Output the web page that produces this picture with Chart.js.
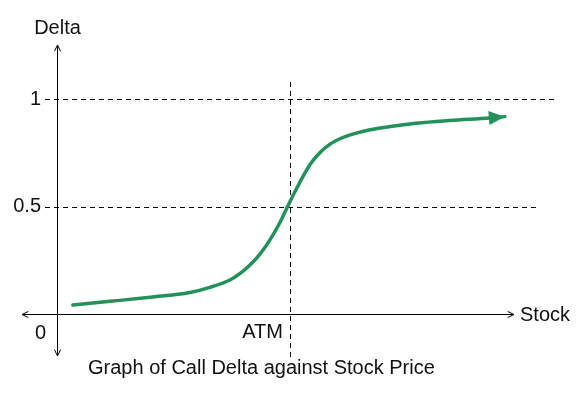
<!DOCTYPE html>
<html>
<head>
<meta charset="utf-8">
<script src="https://cdn.jsdelivr.net/npm/chart.js@4"></script>
<style>
  html, body { margin: 0; padding: 0; background: #fff; }
  #wrap { width: 586px; height: 395px; }
</style>
</head>
<body>
<div id="wrap"><canvas id="myChart"></canvas></div>
<script>
// stock price (0..100, ATM at 50) and call delta
const stockPrice = [3.4, 11.4, 20.0, 28.5, 32.8, 37.1, 39.3, 41.4, 43.6, 45.7, 47.9, 49.6, 51.5, 54.3, 56.4, 58.6, 60.7, 62.9, 67.2, 71.5, 77.0, 84.3, 92.9, 96.1];
const callDelta = [0.042, 0.059, 0.078, 0.100, 0.124, 0.158, 0.189, 0.228, 0.280, 0.345, 0.428, 0.505, 0.587, 0.695, 0.750, 0.790, 0.815, 0.833, 0.857, 0.872, 0.887, 0.900, 0.912, 0.918];
const yTickValues = [1, 0.5];
const yTickLabels = ['1', '0.5'];
const atmPrice = 50;
const xAxisLabel = 'Stock';
const yAxisLabel = 'Delta';
const atmLabel = 'ATM';
const originLabel = '0';
const chartTitle = 'Graph of Call Delta against Stock Price';

const lineColor = '#22915a';
const FONT = '20px "Liberation Sans", Arial, sans-serif';

function chevron(ctx, x, y, dir) {
    // small open arrow head, dir in radians
    const len = 7, spread = 0.45;
    ctx.beginPath();
    ctx.moveTo(x - len * Math.cos(dir - spread), y - len * Math.sin(dir - spread));
    ctx.lineTo(x, y);
    ctx.lineTo(x - len * Math.cos(dir + spread), y - len * Math.sin(dir + spread));
    ctx.stroke();
}

const diagram = {
    id: 'diagram',
    beforeDatasetsDraw(chart) {
        const ctx = chart.ctx;
        const xs = chart.scales.x, ys = chart.scales.y;
        const x0 = xs.getPixelForValue(0), y0 = ys.getPixelForValue(0);
        ctx.save();
        ctx.strokeStyle = '#000';
        ctx.lineWidth = 1;

        // dashed guides
        ctx.setLineDash([5, 4]);
        yTickValues.forEach(function(v, i) {
            const y = Math.round(ys.getPixelForValue(v)) + 0.5;
            ctx.beginPath();
            ctx.moveTo(x0 - 12, y);
            ctx.lineTo(i === 0 ? 556 : 540, y);
            ctx.stroke();
        });
        const xa = Math.round(xs.getPixelForValue(atmPrice)) + 0.5;
        ctx.beginPath();
        ctx.moveTo(xa, 82);
        ctx.lineTo(xa, 360);
        ctx.stroke();
        ctx.setLineDash([]);

        // axes
        const ax = Math.round(x0) + 0.5, ay = Math.round(y0) + 0.5;
        ctx.beginPath();
        ctx.moveTo(ax, 45);
        ctx.lineTo(ax, 356);
        ctx.moveTo(22, ay);
        ctx.lineTo(514, ay);
        ctx.stroke();
        chevron(ctx, ax, 45, -Math.PI / 2);
        chevron(ctx, ax, 356, Math.PI / 2);
        chevron(ctx, 22, ay, Math.PI);
        chevron(ctx, 514, ay, 0);

        // text
        ctx.fillStyle = '#111';
        ctx.font = FONT;
        ctx.textBaseline = 'middle';
        ctx.textAlign = 'center';
        ctx.fillText(yAxisLabel, ax, 28);
        ctx.textAlign = 'right';
        yTickValues.forEach(function(v, i) {
            ctx.fillText(yTickLabels[i], 41, ys.getPixelForValue(v));
        });
        ctx.fillText(originLabel, 46, 333);
        ctx.fillText(atmLabel, 283, 332);
        ctx.textAlign = 'left';
        ctx.fillText(xAxisLabel, 520, 315);
        ctx.fillText(chartTitle, 88, 368);
        ctx.restore();
    },
    afterDatasetsDraw(chart) {
        // arrow head at the end of the curve
        const ctx = chart.ctx;
        const pts = chart.getDatasetMeta(0).data;
        const a = pts[pts.length - 2], b = pts[pts.length - 1];
        const ang = Math.atan2(b.y - a.y, b.x - a.x);
        const len = 16, half = 7;
        ctx.save();
        ctx.fillStyle = lineColor;
        ctx.beginPath();
        ctx.moveTo(b.x, b.y);
        ctx.lineTo(b.x - len * Math.cos(ang) + half * Math.sin(ang), b.y - len * Math.sin(ang) - half * Math.cos(ang));
        ctx.lineTo(b.x - len * Math.cos(ang) - half * Math.sin(ang), b.y - len * Math.sin(ang) + half * Math.cos(ang));
        ctx.closePath();
        ctx.fill();
        ctx.restore();
    }
};

const points = stockPrice.map(function(s, i) { return { x: s, y: callDelta[i] }; });

const ctx = document.getElementById('myChart').getContext('2d');
new Chart(ctx, {
    type: 'line',
    data: {
        datasets: [{
            data: points,
            borderColor: lineColor,
            borderWidth: 3.5,
            pointRadius: 0,
            cubicInterpolationMode: 'monotone',
            borderCapStyle: 'round',
            fill: false
        }]
    },
    options: {
        responsive: true,
        maintainAspectRatio: false,
        animation: false,
        layout: { padding: { left: 57, right: 63, top: 99, bottom: 81 } },
        plugins: { legend: { display: false }, tooltip: { enabled: false } },
        scales: {
            x: { type: 'linear', display: false, min: 0, max: 100 },
            y: { type: 'linear', display: false, min: 0, max: 1 }
        }
    },
    plugins: [diagram]
});
</script>
</body>
</html>
